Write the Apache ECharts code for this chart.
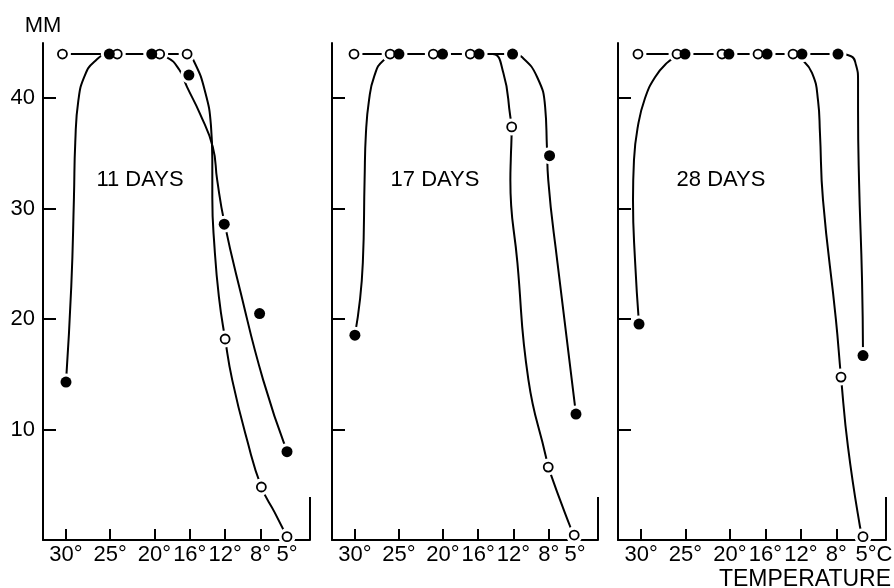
<!DOCTYPE html>
<html>
<head>
<meta charset="utf-8">
<script src="https://cdn.jsdelivr.net/npm/echarts@6/dist/echarts.min.js"></script>
<style>
  html, body { margin: 0; padding: 0; background: #fff; }
  #chart { width: 894px; height: 588px; }
</style>
</head>
<body>
<div id="chart"></div>
<script>
// temperature axis (reversed, 30° on the left) and mm axis
const tempMin = 2.4
const tempMax = 32.6
const tempTicks = [30, 25, 20, 16, 12, 8, 5]
const mmTicks = [10, 20, 30, 40]
const mmMax = 45
const edgeTop = 3.9 // short closing line on the right of each panel
const panelNames = ['11 DAYS', '17 DAYS', '28 DAYS']

// 11 days
const open11 = [[30.4, 44], [24.2, 44], [19.4, 44], [16.3, 44], [12.0, 18.2], [7.9, 4.8], [5, 0.3]]
const filled11 = [[30, 14.3], [25.1, 44], [20.3, 44], [16.1, 42.1], [12.1, 28.6], [8.1, 20.5], [5, 8.0]]
const openCurve11 = [[30.4, 44], [24.2, 44], [19.4, 44], [16.3, 44], [15.5, 43.3], [14.3, 40.7], [13.6, 37.5],
    [13.45, 34.5], [13.45, 31.0], [13.2, 26.5], [12.7, 22.0], [12.0, 18.2], [11.2, 14.5], [9.5, 9.0],
    [7.9, 4.8], [6.4, 2.5], [5, 0.3]]
const filledCurve11 = [[30, 14.3], [29.4, 23], [29.1, 31], [28.95, 36], [28.6, 39.8], [27.9, 42.0], [26.8, 43.3],
    [25.1, 44], [20.3, 44], [18.6, 43.7], [17.2, 42.6], [16.3, 41.0], [14.85, 38.6], [13.4, 35.6], [12.9, 32.6],
    [12.1, 28.8], [10.3, 22.6], [7.7, 14.5], [5, 8.0]]

// 17 days
const open17 = [[30.1, 44], [26.0, 44], [21.1, 44], [16.9, 44], [12.2, 37.4], [8.05, 6.6], [5.1, 0.45]]
const filled17 = [[30, 18.55], [25.0, 44], [20.05, 44], [15.9, 44], [12.1, 44], [7.9, 34.8], [4.9, 11.4]]
const openCurve17 = [[30.1, 44], [26.0, 44], [21.1, 44], [16.9, 44], [14.4, 44], [13.15, 42.3], [12.35, 38.3],
    [12.2, 37.4], [12.3, 34.5], [12.35, 32.6], [11.55, 25.1], [10.3, 14.5], [8.3, 7.5], [8.05, 6.6],
    [5.55, 1.2], [5.1, 0.45]]
const filledCurve17 = [[30, 18.55], [29.1, 25.1], [28.9, 32.6], [28.75, 36.8], [28.4, 39.8], [27.8, 42.0],
    [26.8, 43.4], [25.0, 44], [20.05, 44], [15.9, 44], [12.1, 44], [11.0, 43.7], [9.3, 41.9], [8.4, 39.2],
    [8.2, 35.6], [8.05, 32.6], [7.0, 25.1], [4.9, 11.4]]

// 28 days
const open28 = [[30.35, 44], [25.95, 44], [20.88, 44], [16.82, 44], [12.88, 44], [7.47, 14.75], [4.99, 0.3]]
const filled28 = [[30.23, 19.55], [25.05, 44], [20.1, 44], [15.8, 44], [11.87, 44], [7.81, 44], [4.99, 16.7]]
const openCurve28 = [[30.35, 44], [25.95, 44], [20.88, 44], [16.82, 44], [12.88, 44], [12.0, 43.6],
    [10.74, 42.3], [10.06, 39.8], [9.84, 36.8], [9.5, 30.8], [8.05, 20.0], [7.47, 14.75], [6.68, 8.4],
    [5.33, 1.2], [4.99, 0.3]]
const filledCurve28 = [[30.23, 19.55], [30.68, 25.3], [30.91, 30.8], [30.8, 34.4], [30.35, 37.5], [29.56, 40.0],
    [28.43, 41.9], [27.08, 43.2], [25.95, 43.8], [25.05, 44], [20.1, 44], [15.8, 44], [11.87, 44], [7.81, 44],
    [6.34, 43.8], [5.78, 43.0], [5.55, 41.6], [5.55, 38.9], [5.44, 32.6], [5.1, 23.5], [4.99, 16.7]]

const panels = [
    { open: open11, filled: filled11, openCurve: openCurve11, filledCurve: filledCurve11 },
    { open: open17, filled: filled17, openCurve: openCurve17, filledCurve: filledCurve17 },
    { open: open28, filled: filled28, openCurve: openCurve28, filledCurve: filledCurve28 }
]

const FONT = 'Liberation Sans'
const gridPos = [
    { left: 43, width: 267 },
    { left: 332, width: 266 },
    { left: 618, width: 268 }
]

let chart = echarts.init(document.getElementById('chart'), null, { renderer: 'canvas' })

let grid = [], xAxis = [], yAxis = [], series = []
panels.forEach((p, i) => {
    grid.push({
        left: gridPos[i].left, width: gridPos[i].width, top: 43, height: 497,
        containLabel: false, outerBoundsMode: 'none'
    })
    xAxis.push({
        type: 'value',
        gridIndex: i,
        inverse: true,
        min: tempMin,
        max: tempMax,
        axisLine: { show: true, onZero: false, lineStyle: { color: '#000', width: 2 } },
        axisTick: { show: true, inside: true, length: 11, customValues: tempTicks, lineStyle: { color: '#000', width: 2 } },
        axisLabel: {
            show: true,
            customValues: tempTicks,
            hideOverlap: false,
            margin: 4,
            color: '#000',
            fontSize: 22,
            fontFamily: FONT,
            // the last label of the last panel carries the unit and hangs to the right
            formatter: v => (i === 2 && v === 5) ? '{c|5°C}' : v + '°',
            rich: { c: { fontSize: 22, fontFamily: FONT, color: '#000', padding: [0, 0, 0, 22] } }
        },
        splitLine: { show: false }
    })
    yAxis.push({
        type: 'value',
        gridIndex: i,
        min: 0,
        max: mmMax,
        name: i === 0 ? 'MM' : '',
        nameLocation: 'end',
        nameGap: 6,
        nameTextStyle: { color: '#000', fontSize: 22, fontFamily: FONT },
        axisLine: { show: true, onZero: false, lineStyle: { color: '#000', width: 2 } },
        axisTick: { show: true, inside: true, length: 13, customValues: mmTicks, lineStyle: { color: '#000', width: 2 } },
        axisLabel: {
            show: i === 0,
            customValues: mmTicks,
            margin: 8,
            color: '#000',
            fontSize: 22,
            fontFamily: FONT
        },
        splitLine: { show: false }
    })
    let curveStyle = { color: '#000', width: 2 }
    series.push({
        type: 'line', xAxisIndex: i, yAxisIndex: i, data: p.openCurve,
        smooth: 0.5, symbol: 'none', lineStyle: curveStyle, z: 1, silent: true, clip: false,
        markLine: {
            silent: true, symbol: 'none', label: { show: false },
            lineStyle: { color: '#000', width: 2, type: 'solid' },
            data: [[{ coord: [tempMin, 0] }, { coord: [tempMin, edgeTop] }]]
        }
    })
    series.push({
        type: 'line', xAxisIndex: i, yAxisIndex: i, data: p.filledCurve,
        smooth: 0.5, symbol: 'none', lineStyle: curveStyle, z: 1, silent: true, clip: false
    })
    // white halos so the lines stop short of each circle, as in the drawing
    series.push({
        type: 'scatter', xAxisIndex: i, yAxisIndex: i, data: p.open.concat(p.filled),
        symbol: 'circle', symbolSize: 17, itemStyle: { color: '#fff', opacity: 1 }, z: 2, silent: true
    })
    series.push({
        type: 'scatter', xAxisIndex: i, yAxisIndex: i, data: p.open,
        symbol: 'circle', symbolSize: 9,
        itemStyle: { color: '#fff', borderColor: '#000', borderWidth: 1.8, opacity: 1 }, z: 3, silent: true
    })
    series.push({
        type: 'scatter', xAxisIndex: i, yAxisIndex: i, data: p.filled,
        symbol: 'circle', symbolSize: 11, itemStyle: { color: '#000', opacity: 1 }, z: 3, silent: true
    })
})

let labelFont = '22px "' + FONT + '"'
let option = {
    animation: false,
    backgroundColor: '#fff',
    grid: grid,
    xAxis: xAxis,
    yAxis: yAxis,
    series: series,
    graphic: [
        { type: 'text', x: 140, y: 180, style: { text: panelNames[0], font: labelFont, fill: '#000', textAlign: 'center', textVerticalAlign: 'middle' } },
        { type: 'text', x: 435, y: 180, style: { text: panelNames[1], font: labelFont, fill: '#000', textAlign: 'center', textVerticalAlign: 'middle' } },
        { type: 'text', x: 721, y: 180, style: { text: panelNames[2], font: labelFont, fill: '#000', textAlign: 'center', textVerticalAlign: 'middle' } },
        { type: 'text', x: 891, y: 580, style: { text: 'TEMPERATURE', font: '23px "' + FONT + '"', fill: '#000', textAlign: 'right', textVerticalAlign: 'middle' } }
    ]
}
chart.setOption(option)
</script>
</body>
</html>
